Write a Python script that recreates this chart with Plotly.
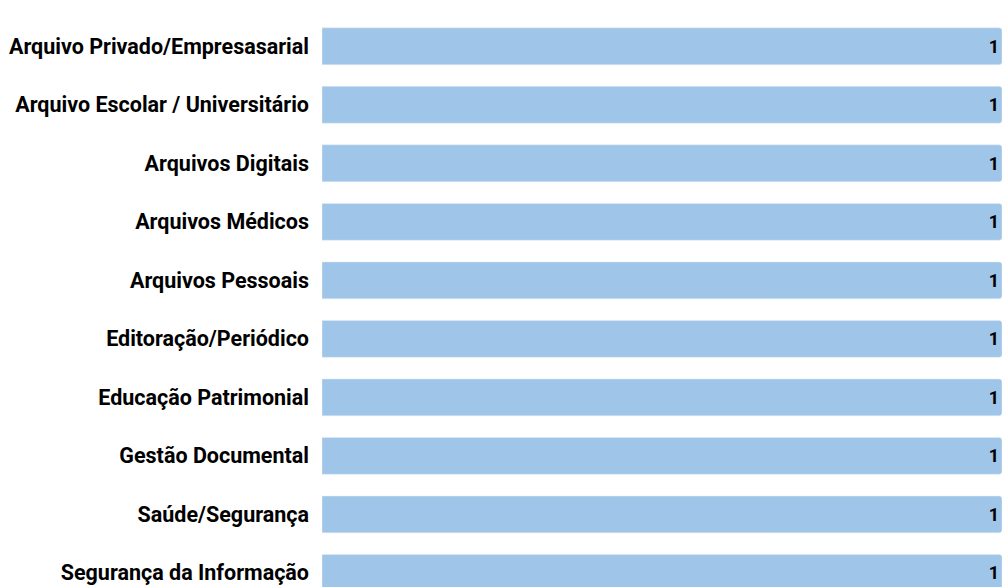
import plotly.graph_objects as go

categorias = [
    "Arquivo Privado/Empresasarial",
    "Arquivo Escolar / Universitário",
    "Arquivos Digitais",
    "Arquivos Médicos",
    "Arquivos Pessoais",
    "Editoração/Periódico",
    "Educação Patrimonial",
    "Gestão Documental",
    "Saúde/Segurança",
    "Segurança da Informação",
]
valores = [1, 1, 1, 1, 1, 1, 1, 1, 1, 1]

fig = go.Figure()
fig.add_trace(go.Bar(
    y=categorias,
    x=valores,
    orientation="h",
    marker=dict(color="#9fc5e8", cornerradius=3),
    text=[str(v) for v in valores],
    textposition="inside",
    insidetextanchor="end",
    textangle=0,
    textfont=dict(family="Roboto", size=18, color="#000000", weight="bold"),
    hoverinfo="skip",
))

fig.update_layout(
    width=1002, height=587,
    margin=dict(l=322, r=0, t=17, b=0),
    paper_bgcolor="white", plot_bgcolor="white",
    bargap=0.37,
    showlegend=False,
    uniformtext=dict(minsize=18, mode="show"),
    font=dict(family="Roboto", color="#000000"),
)
fig.update_xaxes(range=[0, 1], visible=False, showgrid=False)
fig.update_yaxes(
    range=[9.24, -0.5],
    showgrid=False, showline=False, ticks="",
    ticklabelstandoff=12,
    tickfont=dict(family="Roboto", size=21.5, color="#000000", weight="bold"),
)

# sem margem do body, para a figura ocupar a janela inteira
fig.write_html("out.html", config={"displayModeBar": False},
               post_script="document.body.style.margin='0';")
